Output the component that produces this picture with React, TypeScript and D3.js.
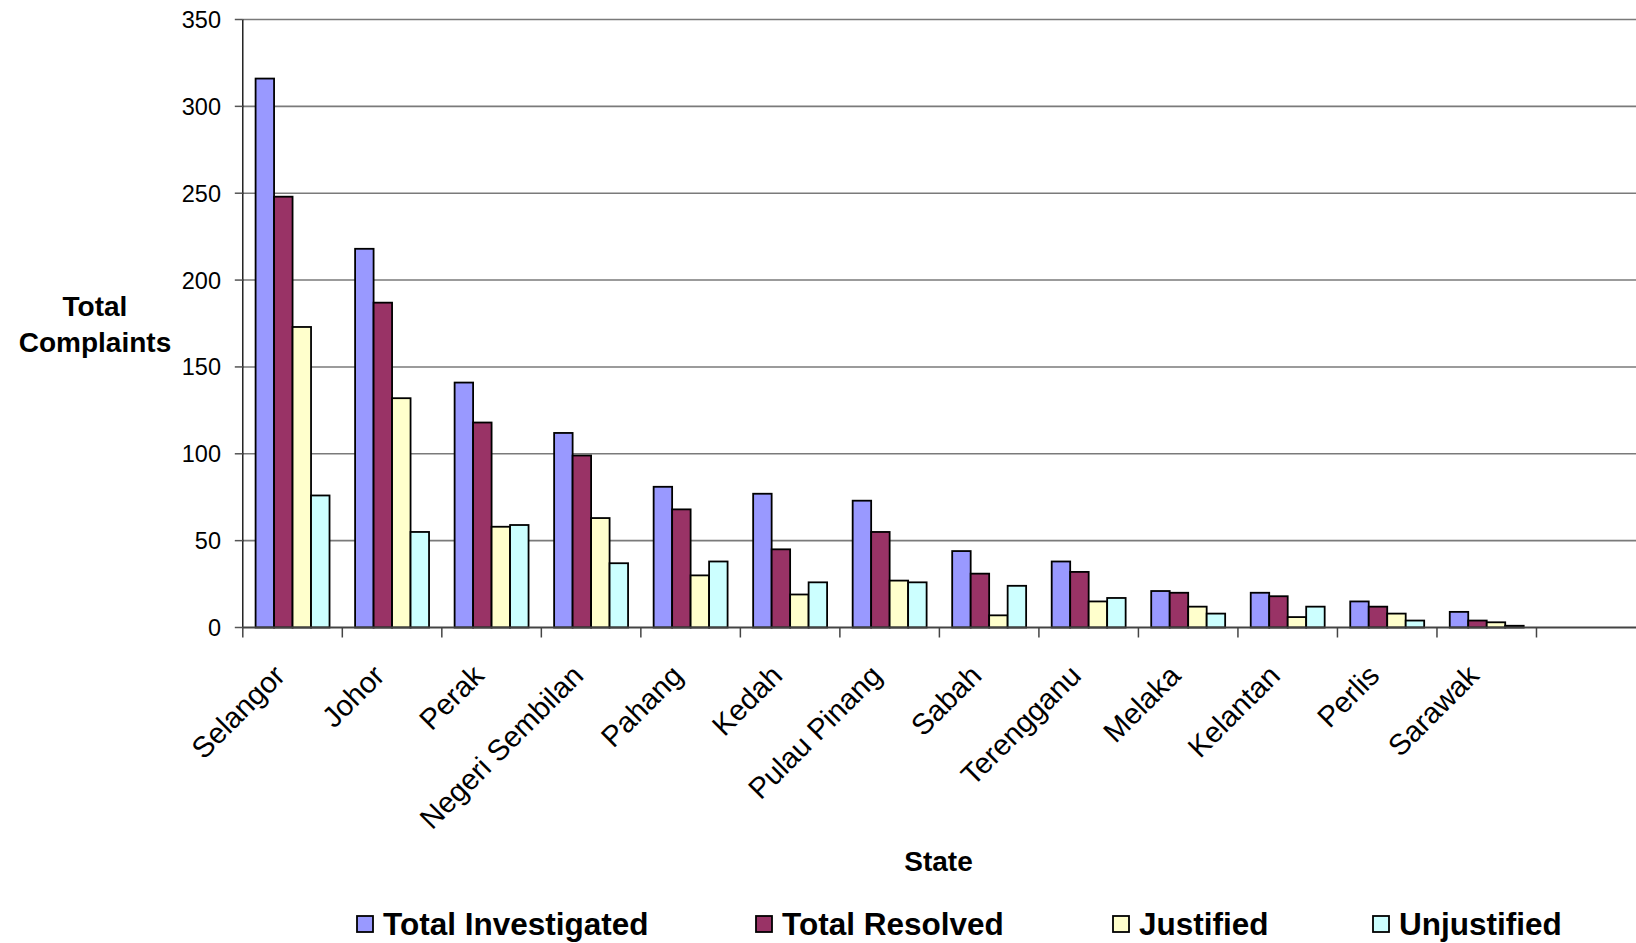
import React from "react";
import * as d3 from "d3";

const states = [
  "Selangor",
  "Johor",
  "Perak",
  "Negeri Sembilan",
  "Pahang",
  "Kedah",
  "Pulau Pinang",
  "Sabah",
  "Terengganu",
  "Melaka",
  "Kelantan",
  "Perlis",
  "Sarawak",
];

const seriesNames = ["Total Investigated", "Total Resolved", "Justified", "Unjustified"];
const seriesColors = ["#9999FF", "#993366", "#FFFFCC", "#CCFFFF"];

const totalInvestigated = [316, 218, 141, 112, 81, 77, 73, 44, 38, 21, 20, 15, 9];
const totalResolved = [248, 187, 118, 99, 68, 45, 55, 31, 32, 20, 18, 12, 4];
const justified = [173, 132, 58, 63, 30, 19, 27, 7, 15, 12, 6, 8, 3];
const unjustified = [76, 55, 59, 37, 38, 26, 26, 24, 17, 8, 12, 4, 1];

const yTicks = [0, 50, 100, 150, 200, 250, 300, 350];

const W = 1636;
const H = 943;
const font = "'Liberation Sans', Arial, sans-serif";

export default function App() {
  const values = [totalInvestigated, totalResolved, justified, unjustified];

  const left = 242.8;
  const right = W;
  const top = 19.5;
  const bottom = 627.5;
  // the plot area has room for one more (empty) category slot on the right
  const step = (right - left) / (states.length + 1);

  const x = d3
    .scaleBand<string>()
    .domain(states)
    .range([left, left + step * states.length])
    .paddingInner(0.257)
    .paddingOuter(0.1285);

  const xSub = d3
    .scaleBand<string>()
    .domain(seriesNames)
    .range([0, x.bandwidth()]);

  const y = d3.scaleLinear().domain([0, 350]).range([bottom, top]);

  const slotEdges = d3.range(states.length + 1).map((i) => left + i * step);

  return (
    <svg
      width={W}
      height={H}
      style={{ position: "absolute", left: 0, top: 0, background: "#fff" }}
      fontFamily={font}
    >
      {/* gridlines */}
      {yTicks.slice(1).map((t) => (
        <line
          key={"g" + t}
          x1={left}
          x2={right}
          y1={y(t)}
          y2={y(t)}
          stroke="#7a7a7a"
          strokeWidth={1.6}
        />
      ))}

      {/* bars */}
      {states.map((s, i) => (
        <g key={s} transform={`translate(${x(s)},0)`}>
          {seriesNames.map((name, k) => (
            <rect
              key={name}
              x={xSub(name)}
              y={y(values[k][i])}
              width={xSub.bandwidth()}
              height={bottom - y(values[k][i])}
              fill={seriesColors[k]}
              stroke="#000"
              strokeWidth={1.8}
            />
          ))}
        </g>
      ))}

      {/* y axis */}
      <line x1={left} x2={left} y1={top} y2={bottom} stroke="#000" strokeWidth={1.3} />
      {yTicks.map((t) => (
        <g key={"t" + t}>
          <line x1={left - 8} x2={left} y1={y(t)} y2={y(t)} stroke="#555" strokeWidth={1.5} />
          <text
            x={221}
            y={y(t)}
            dy="0.36em"
            textAnchor="end"
            fontSize={23.5}
            fill="#000"
          >
            {t}
          </text>
        </g>
      ))}

      {/* x axis */}
      <line x1={left} x2={right} y1={bottom} y2={bottom} stroke="#444" strokeWidth={2} />
      {slotEdges.map((e, i) => (
        <line key={"x" + i} x1={e} x2={e} y1={bottom} y2={bottom + 10} stroke="#444" strokeWidth={1.5} />
      ))}
      {states.map((s) => (
        <text
          key={"l" + s}
          transform={`translate(${(x(s) as number) + x.bandwidth() / 2 - 6},${bottom + 50}) rotate(-45)`}
          textAnchor="end"
          fontSize={29.3}
          fill="#000"
        >
          {s}
        </text>
      ))}

      {/* axis titles */}
      <text x={95} y={316} textAnchor="middle" fontSize={28} fontWeight="bold">
        Total
      </text>
      <text x={95} y={351.5} textAnchor="middle" fontSize={28} fontWeight="bold">
        Complaints
      </text>
      <text x={938.5} y={871} textAnchor="middle" fontSize={28} fontWeight="bold">
        State
      </text>

      {/* legend */}
      {seriesNames.map((name, k) => {
        const lx = [357, 756, 1113, 1373][k];
        return (
          <g key={"leg" + name} transform={`translate(${lx},916)`}>
            <rect width={16} height={16} fill={seriesColors[k]} stroke="#000" strokeWidth={1.8} />
            <text x={26} y={19} fontSize={31.5} fontWeight="bold">
              {name}
            </text>
          </g>
        );
      })}
    </svg>
  );
}
